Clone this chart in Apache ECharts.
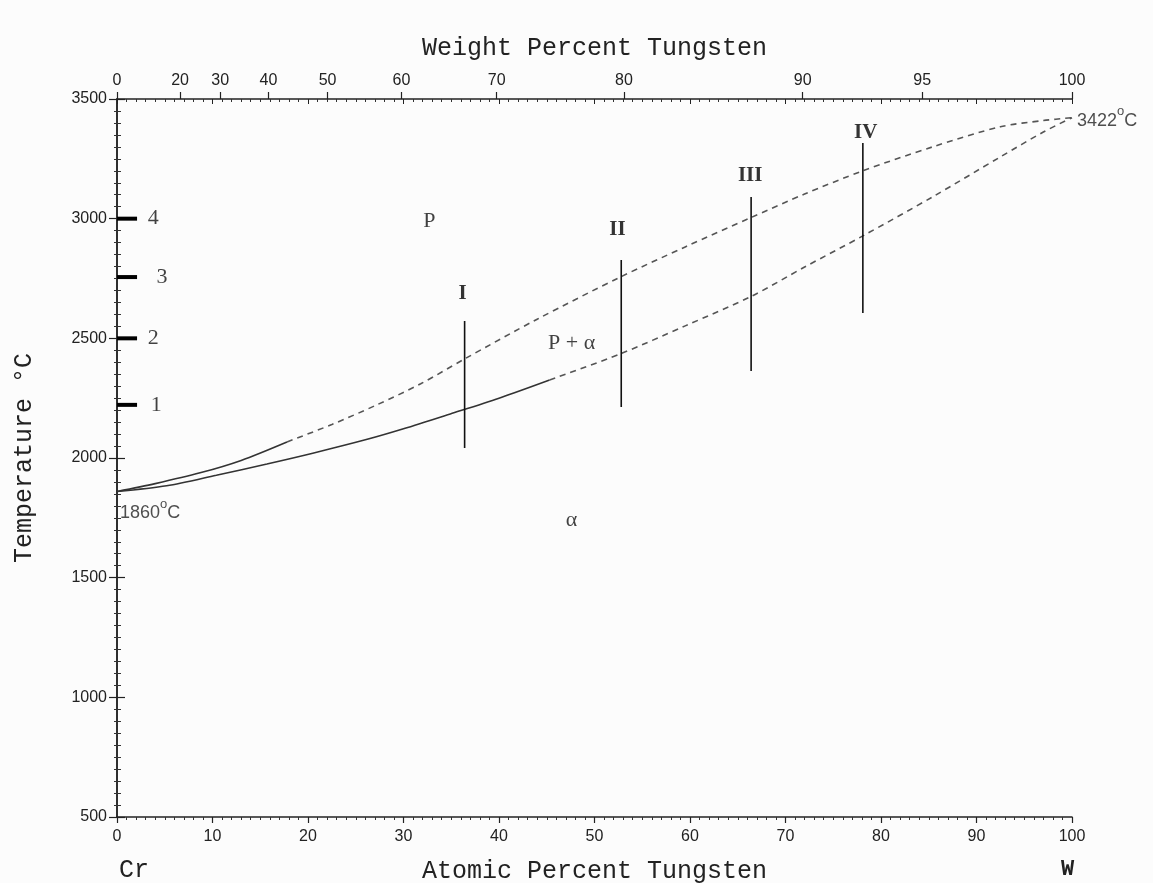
<!DOCTYPE html>
<html>
<head>
<meta charset="utf-8">
<script src="https://cdn.jsdelivr.net/npm/echarts@6/dist/echarts.min.js"></script>
<style>
  html, body { margin: 0; background: #fcfcfc; }
  #chart { width: 1153px; height: 883px; }
</style>
</head>
<body>
<div id="chart"></div>
<script>
// Cr-W phase diagram, atomic % W on x, temperature (°C) on y
var liquidusSolidAt = [0, 4, 8.7, 13, 17.8];
var liquidusSolidT = [1860, 1893, 1938, 1990, 2067];
var liquidusDashAt = [17.8, 22.5, 27.2, 31.8, 36.4, 44, 52.7, 59.5, 66.4, 72, 78.1, 85.4, 92.5, 97, 100];
var liquidusDashT = [2067, 2140, 2222, 2310, 2414, 2580, 2756, 2882, 3005, 3103, 3200, 3300, 3384, 3410, 3422];

var solidusSolidAt = [0, 5.2, 10.4, 15.7, 20.5, 26.2, 30, 34.9, 40, 45.3];
var solidusSolidT = [1860, 1884, 1928, 1975, 2020, 2078, 2122, 2184, 2250, 2326];
var solidusDashAt = [45.3, 52.7, 59.5, 66.4, 72, 78.1, 85.4, 92.5, 97, 100];
var solidusDashT = [2326, 2435, 2552, 2675, 2798, 2928, 3091, 3258, 3362, 3422];

// vertical sections I-IV
var sectionAt = [36.4, 52.8, 66.4, 78.1];
var sectionTop = [2572, 2827, 3091, 3316];
var sectionBottom = [2042, 2213, 2364, 2606];
var sectionNames = ['I', 'II', 'III', 'IV'];
var sectionLabelAt = [36.2, 52.4, 66.3, 78.4];
var sectionLabelT = [2689, 2953, 3178, 3358];

// short temperature marks on left axis
var markTemps = [2222, 2500, 2756, 3000];
var markNames = ['1', '2', '3', '4'];
var markLabelAt = [4.1, 3.8, 4.7, 3.8];

// phase field labels
var phaseNames = ['P', 'P + α', 'α'];
var phaseAt = [32.7, 47.6, 47.6];
var phaseT = [2990, 2481, 1741];

// weight percent ticks on the top axis
var weightTicks = [0, 20, 30, 40, 50, 60, 70, 80, 90, 95, 100];
var tempTicks = [500, 3500, 500];

function wtToAt(w) {
    var a = w / 183.84, b = (100 - w) / 51.996;
    return 100 * a / (a + b);
}
var weightAt = weightTicks.map(wtToAt);

function zip(xs, ys) {
    return xs.map(function (x, i) { return [x, ys[i]]; });
}

var chart = echarts.init(document.getElementById('chart'));

var axisLineStyle = { color: '#222', width: 1.5 };
var tickFont = { fontFamily: 'Liberation Sans', fontSize: 16, color: '#222' };
var titleFont = { fontFamily: 'Liberation Mono', fontSize: 25, color: '#222' };

var sectionSeries = sectionAt.map(function (x, i) {
    return {
        type: 'line',
        data: [[x, sectionBottom[i]], [x, sectionTop[i]]],
        symbol: 'none',
        lineStyle: { color: '#111', width: 1.6 },
        silent: true
    };
});

var markSeries = markTemps.map(function (t) {
    return {
        type: 'line',
        data: [[0, t], [2.1, t]],
        symbol: 'none',
        lineStyle: { color: '#000', width: 4 },
        silent: true
    };
});

function curve(data, dashed) {
    return {
        type: 'line', data: data, smooth: 0.3,
        symbol: 'none', silent: true,
        lineStyle: dashed ? { color: '#555', width: 1.6, type: [6, 5] } : { color: '#333', width: 1.6 }
    };
}

function textSeries(names, xs, ys, font) {
    return {
        type: 'scatter', symbolSize: 0, silent: true,
        data: names.map(function (n, i) {
            return { name: n, value: [xs[i], ys[i]] };
        }),
        label: Object.assign({ show: true, position: 'inside', formatter: '{b}' }, font)
    };
}

var option = {
    backgroundColor: '#fcfcfc',
    animation: false,
    grid: { left: 117, right: 81, top: 99, bottom: 66, outerBoundsMode: 'none' },
    xAxis: [
        {
            type: 'value', position: 'bottom', min: 0, max: 100, interval: 10,
            name: 'Atomic Percent Tungsten', nameLocation: 'middle', nameGap: 42,
            nameTextStyle: titleFont,
            axisLine: { lineStyle: axisLineStyle },
            axisTick: { length: 6, lineStyle: { color: '#222', width: 1.2 } },
            minorTick: { show: true, splitNumber: 10, length: 3, lineStyle: { color: '#333' } },
            axisLabel: Object.assign({ margin: 12 }, tickFont),
            splitLine: { show: false }
        },
        {
            type: 'value', position: 'top', min: 0, max: 100,
            name: 'Weight Percent Tungsten', nameLocation: 'middle', nameGap: 38,
            nameTextStyle: titleFont,
            axisLine: { lineStyle: axisLineStyle },
            axisTick: { customValues: weightAt, length: 7, lineStyle: { color: '#222', width: 1.2 } },
            axisLabel: Object.assign({
                customValues: weightAt, margin: 10,
                formatter: function (v) {
                    for (var i = 0; i < weightAt.length; i++) {
                        if (Math.abs(weightAt[i] - v) < 1e-6) return String(weightTicks[i]);
                    }
                    return '';
                }
            }, tickFont),
            splitLine: { show: false }
        },
        {
            type: 'value', position: 'top', min: 0, max: 100, interval: 10,
            axisLine: { show: false },
            axisTick: { inside: true, length: 5, lineStyle: { color: '#222' } },
            minorTick: { show: true, splitNumber: 10, length: 3, lineStyle: { color: '#333' } },
            axisLabel: { show: false },
            splitLine: { show: false }
        }
    ],
    yAxis: [
        {
            type: 'value', position: 'left', min: tempTicks[0], max: tempTicks[1], interval: tempTicks[2],
            name: 'Temperature °C', nameLocation: 'middle', nameGap: 80,
            nameTextStyle: titleFont,
            axisLine: { lineStyle: axisLineStyle },
            axisTick: { length: 8, lineStyle: { color: '#222', width: 1.2 } },
            minorTick: { show: true, splitNumber: 10, length: 3, lineStyle: { color: '#333' } },
            axisLabel: Object.assign({ margin: 10, formatter: function (v) { return String(v); } }, tickFont),
            splitLine: { show: false }
        },
        {
            type: 'value', position: 'right', min: tempTicks[0], max: tempTicks[1], interval: tempTicks[2],
            axisLine: { lineStyle: axisLineStyle },
            axisTick: { length: 8, lineStyle: { color: '#222', width: 1.2 } },
            minorTick: { show: true, splitNumber: 10, length: 4, lineStyle: { color: '#333' } },
            axisLabel: { show: false },
            splitLine: { show: false }
        }
    ],
    graphic: [
        { type: 'text', left: 119, top: 858, style: { text: 'Cr', font: '25px "Liberation Mono"', fill: '#222' } },
        { type: 'text', left: 1061, top: 858, style: { text: 'W', font: 'bold 22px "Liberation Mono"', fill: '#222' } }
    ],
    series: [
        curve(zip(liquidusSolidAt, liquidusSolidT), false),
        curve(zip(liquidusDashAt, liquidusDashT), true),
        curve(zip(solidusSolidAt, solidusSolidT), false),
        curve(zip(solidusDashAt, solidusDashT), true),
        textSeries(sectionNames, sectionLabelAt, sectionLabelT,
            { fontFamily: 'Liberation Serif', fontWeight: 'bold', fontSize: 21, color: '#000' }),
        textSeries(markNames, markLabelAt, markTemps,
            { fontFamily: 'Liberation Serif', fontSize: 22, color: '#111' }),
        textSeries(phaseNames, phaseAt, phaseT,
            { fontFamily: 'Liberation Serif', fontSize: 22, color: '#111' }),
        {
            type: 'scatter', symbolSize: 0, silent: true, clip: false,
            data: [
                { name: '1860', value: [0, 1860], label: { position: [3, 6] } },
                { name: '3422', value: [100, 3422], label: { position: [5, -13] } }
            ],
            label: {
                show: true,
                formatter: '{n|{b}}{s|o}{n|C}',
                rich: {
                    n: { fontFamily: 'Liberation Sans', fontSize: 18, color: '#222', lineHeight: 25, verticalAlign: 'bottom' },
                    s: { fontFamily: 'Liberation Sans', fontSize: 13, color: '#222', lineHeight: 25, verticalAlign: 'top' }
                }
            }
        }
    ].concat(sectionSeries, markSeries)
};

chart.setOption(option);
window.addEventListener('resize', function () { chart.resize(); });
</script>
</body>
</html>
